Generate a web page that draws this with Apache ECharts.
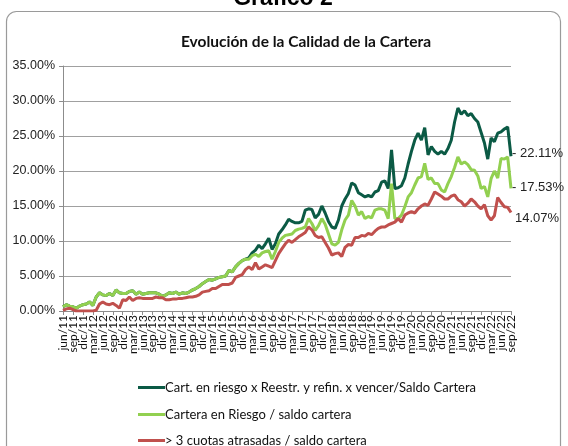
<!DOCTYPE html>
<html>
<head>
<meta charset="utf-8">
<script src="https://cdn.jsdelivr.net/npm/echarts@6/dist/echarts.min.js"></script>
<style>
html,body{margin:0;padding:0;background:#fff;}
#c{width:568px;height:446px;}
</style>
</head>
<body>
<div id="c"></div>
<script>
// ---- data ----
var monthNames = ['ene','feb','mar','abr','may','jun','jul','ago','sep','oct','nov','dic'];
var startYear = 2011, startMonth = 5, monthCount = 136; // jun/11 .. sep/22
var labelStep = 3; // one tick label per quarter
var seriesNames = [
  'Cart. en riesgo x Reestr. y refin. x vencer/Saldo Cartera',
  'Cartera en Riesgo / saldo cartera',
  '> 3 cuotas atrasadas / saldo cartera'
];
var yTicks = [0, 5, 10, 15, 20, 25, 30, 35];

var carteraRiesgo = [
  0.6,0.9,0.7,0.6,0.4,0.7,0.9,1.0,1.3,0.8,
  2.0,2.6,2.3,2.2,2.5,2.2,3.0,2.6,2.5,2.5,
  2.8,2.9,2.4,2.7,2.4,2.5,2.6,2.6,2.6,2.4,
  2.1,2.3,2.6,2.5,2.7,2.4,2.6,2.5,2.7,3.0,
  3.2,3.5,3.9,4.2,4.5,4.4,4.6,4.8,4.9,5.0,
  5.8,5.6,6.3,6.8,7.2,7.4,7.4,7.9,8.1,7.8,
  8.3,8.5,8.6,7.4,8.5,9.8,10.4,10.8,10.9,11.0,
  11.5,11.7,11.8,12.0,13.2,12.5,11.5,12.2,13.2,12.4,
  11.0,9.6,9.4,9.8,11.6,13.0,13.7,15.8,15.0,13.7,
  14.2,13.2,13.5,13.3,14.4,14.6,14.6,14.4,13.2,18.2,
  13.2,13.2,13.7,14.9,16.3,16.9,18.0,19.0,19.2,21.1,
  18.8,19.0,18.2,18.2,17.3,17.0,18.2,19.2,20.5,22.0,
  21.0,21.3,20.9,20.2,20.1,19.3,17.5,17.8,16.3,18.9,
  20.0,19.0,21.8,21.7,22.0,17.53
];

var cartReestr = [
  0.6,0.9,0.7,0.6,0.4,0.7,0.9,1.0,1.3,0.8,
  2.0,2.6,2.3,2.2,2.5,2.2,3.0,2.6,2.5,2.5,
  2.8,2.9,2.4,2.7,2.4,2.5,2.6,2.6,2.6,2.4,
  2.1,2.3,2.6,2.5,2.7,2.4,2.6,2.5,2.7,3.0,
  3.2,3.5,3.9,4.2,4.5,4.4,4.6,4.8,4.9,5.0,
  5.8,5.6,6.3,6.8,7.2,7.4,7.6,8.3,8.7,9.4,
  8.9,9.6,10.4,8.8,9.6,11.0,11.6,12.3,13.1,12.8,
  12.6,12.6,12.8,14.4,14.6,14.5,13.3,13.8,15.0,14.0,
  12.8,12.0,11.8,13.0,15.0,16.0,16.8,18.3,18.0,16.9,
  16.6,16.3,16.5,16.3,17.0,17.2,18.4,18.6,17.5,23.0,
  17.5,17.6,17.9,19.0,21.0,22.8,24.4,25.4,24.4,26.2,
  22.3,23.5,22.8,22.4,22.8,22.4,23.2,24.4,27.0,29.0,
  28.1,28.6,27.9,28.2,27.5,27.0,25.5,24.0,21.7,24.7,
  24.2,25.4,25.6,26.0,26.3,22.11
];

var cuotasAtrasadas = [
  0.1,0.3,0.4,0.2,0.0,0.0,0.0,0.0,0.0,0.0,
  0.1,1.0,1.3,1.0,0.9,1.1,0.8,0.4,1.6,1.5,
  2.0,1.5,1.8,1.9,1.8,1.8,1.8,1.8,2.0,1.9,
  1.9,1.6,1.6,1.7,1.7,1.8,1.8,1.9,2.0,2.0,
  2.1,2.3,2.7,2.8,2.9,3.2,3.2,3.5,3.8,3.8,
  3.8,4.0,4.8,5.0,5.2,5.9,6.3,5.9,6.9,6.0,
  6.3,6.6,6.4,6.2,7.2,8.2,8.9,9.6,10.1,9.8,
  10.2,10.6,10.9,11.2,12.0,11.6,10.8,10.5,10.6,9.8,
  9.0,8.0,8.2,8.3,7.8,9.1,9.5,9.4,10.5,10.5,
  10.8,10.7,11.1,10.9,11.4,11.8,12.0,12.0,12.3,12.5,
  12.7,13.2,12.7,13.7,14.0,14.2,14.0,14.6,15.0,15.3,
  15.1,16.0,17.0,16.7,16.4,16.0,16.0,16.4,16.6,15.9,
  15.6,15.0,15.4,16.0,15.6,15.0,14.6,15.2,13.6,13.0,
  13.6,16.2,15.5,14.9,14.8,14.07
];

// ---- build ----
var categories = [];
for (var k = 0; k < monthCount; k++) {
  var m = (startMonth + k) % 12;
  var y = startYear + Math.floor((startMonth + k) / 12);
  categories.push(monthNames[m] + '/' + String(y).slice(2));
}

var colors = ['#0b5a45', '#92d050', '#c0504d'];
var valueSets = [cartReestr, carteraRiesgo, cuotasAtrasadas];
var endLabelStyle = [
  {prefix: '- ', offset: [0, -3]},
  {prefix: '- ', offset: [0, -1]},
  {prefix: '', offset: [3, 6]}
];
var legendTops = [376, 403, 429];

var series = valueSets.map(function (arr, idx) {
  return {
    name: seriesNames[idx],
    type: 'line',
    data: arr,
    symbol: 'none',
    showSymbol: false,
    animation: false,
    lineStyle: {width: 3, color: colors[idx]},
    itemStyle: {color: colors[idx]},
    z: 2 + idx,
    endLabel: {
      show: true,
      distance: 1,
      offset: endLabelStyle[idx].offset,
      formatter: function (p) { return endLabelStyle[idx].prefix + Number(p.value).toFixed(2) + '%'; },
      fontFamily: 'Liberation Sans',
      fontSize: 13,
      color: '#222'
    }
  };
});

var legends = seriesNames.map(function (name, idx) {
  return {
    orient: 'horizontal',
    left: 133,
    top: legendTops[idx],
    icon: 'rect',
    itemWidth: 27,
    itemHeight: 3,
    data: [name],
    textStyle: {fontFamily: 'Lato', fontSize: 13, color: '#111', padding: [0, 0, 0, -5]}
  };
});

var chart = echarts.init(document.getElementById('c'), null, {renderer: 'canvas'});
chart.setOption({
  animation: false,
  backgroundColor: '#fff',
  graphic: [
    {
      type: 'rect',
      shape: {x: 6.5, y: 11.5, width: 554, height: 460, r: 10},
      style: {fill: 'none', stroke: '#9a9a9a', lineWidth: 1.2},
      z: 0
    },
    {
      type: 'text',
      x: 283, y: -13,
      style: {
        text: 'Gráfico 2',
        font: 'bold 23px "Liberation Sans"',
        fill: '#000',
        textAlign: 'center',
        textVerticalAlign: 'top'
      }
    },
    {
      type: 'text',
      x: 306, y: 34,
      style: {
        text: 'Evolución de la Calidad de la Cartera',
        font: 'bold 15.5px Lato',
        fill: '#111',
        textAlign: 'center',
        textVerticalAlign: 'top'
      }
    }
  ],
  grid: {left: 63, right: 57, top: 66, bottom: 135, containLabel: false},
  legend: legends,
  xAxis: {
    type: 'category',
    data: categories,
    boundaryGap: false,
    axisLine: {show: true, lineStyle: {color: '#8c8c8c', width: 1}},
    axisTick: {show: true, interval: labelStep - 1, length: 4, lineStyle: {color: '#8c8c8c'}},
    axisLabel: {
      interval: 0,
      rotate: 90,
      margin: 4,
      fontFamily: 'Lato',
      fontSize: 12,
      color: '#111',
      formatter: function (v, i) { return i % labelStep === 0 ? v : ''; }
    },
    splitLine: {show: false}
  },
  yAxis: {
    type: 'value',
    min: yTicks[0],
    max: yTicks[yTicks.length - 1],
    interval: 5,
    axisLine: {show: true, lineStyle: {color: '#8c8c8c', width: 1}},
    axisTick: {show: true, length: 4, lineStyle: {color: '#8c8c8c'}},
    axisLabel: {
      margin: 8,
      fontFamily: 'Liberation Sans',
      fontSize: 12.5,
      color: '#222',
      formatter: function (v) { return v.toFixed(2) + '%'; }
    },
    splitLine: {show: true, lineStyle: {color: '#a0a0a0', width: 1}}
  },
  series: series
});
</script>
</body>
</html>
